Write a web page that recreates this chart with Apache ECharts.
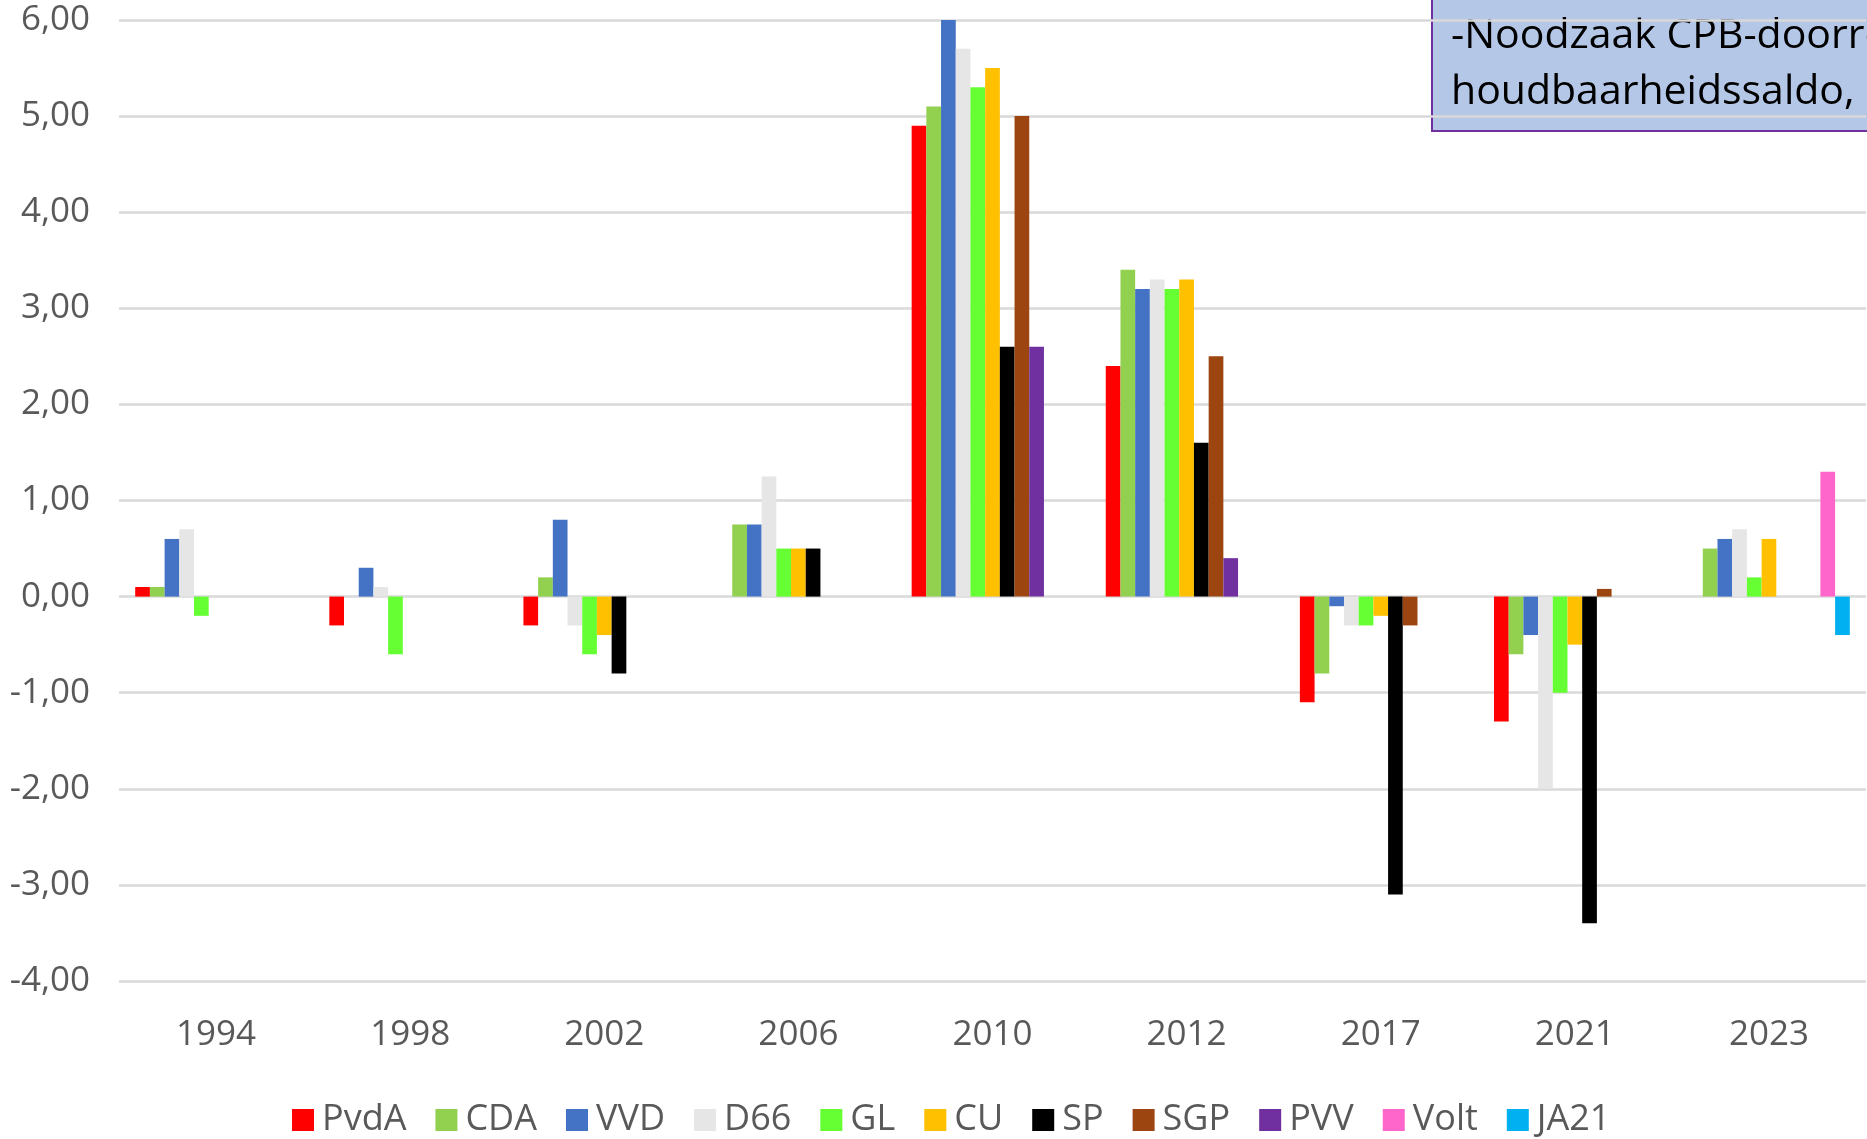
<!DOCTYPE html>
<html>
<head>
<meta charset="utf-8">
<script src="https://cdn.jsdelivr.net/npm/echarts@6/dist/echarts.min.js"></script>
<style>
html,body{margin:0;padding:0;background:#fff;}
#chart{width:1867px;height:1139px;}
</style>
</head>
<body>
<div id="chart"></div>
<script>
var categories = ['1994','1998','2002','2006','2010','2012','2017','2021','2023'];
var seriesNames = ['PvdA','CDA','VVD','D66','GL','CU','SP','SGP','PVV','Volt','JA21'];
var PvdA = [0.1, -0.3, -0.3, null, 4.9, 2.4, -1.1, -1.3, null];
var CDA  = [0.1, null, 0.2, 0.75, 5.1, 3.4, -0.8, -0.6, 0.5];
var VVD  = [0.6, 0.3, 0.8, 0.75, 6.0, 3.2, -0.1, -0.4, 0.6];
var D66  = [0.7, 0.1, -0.3, 1.25, 5.7, 3.3, -0.3, -2.0, 0.7];
var GL   = [-0.2, -0.6, -0.6, 0.5, 5.3, 3.2, -0.3, -1.0, 0.2];
var CU   = [null, null, -0.4, 0.5, 5.5, 3.3, -0.2, -0.5, 0.6];
var SP   = [null, null, -0.8, 0.5, 2.6, 1.6, -3.1, -3.4, null];
var SGP  = [null, null, null, null, 5.0, 2.5, -0.3, 0.08, null];
var PVV  = [null, null, null, null, 2.6, 0.4, null, null, null];
var Volt = [null, null, null, null, null, null, null, null, 1.3];
var JA21 = [null, null, null, null, null, null, null, null, -0.4];
var seriesData = [PvdA, CDA, VVD, D66, GL, CU, SP, SGP, PVV, Volt, JA21];
var colors = ['#FF0000','#92D050','#4472C4','#E7E6E6','#66FF33','#FFC000','#000000','#9C4510','#7030A0','#FF66CC','#00B0F0'];
var yMin = -4, yMax = 6, yStep = 1;
var boxLines = ['-Noodzaak CPB-doorrekening', 'houdbaarheidssaldo,'];

var FONT = '"Open Sans", sans-serif';
var chart = echarts.init(document.getElementById('chart'), null, {renderer:'canvas'});
var series = seriesNames.map(function(n, i){
  return {
    name: n, type: 'bar', data: seriesData[i],
    barWidth: 14.7, barGap: '0%',
    itemStyle: {color: colors[i]},
    emphasis: {disabled: true}
  };
});
chart.setOption({
  animation: false,
  backgroundColor: '#ffffff',
  grid: {left: 119, right: 1, top: 20, bottom: 158, containLabel: false},
  xAxis: {
    type: 'category', data: categories,
    axisLine: {show: false, onZero: false},
    axisTick: {show: false},
    axisLabel: {color: '#595959', fontFamily: FONT, fontSize: 35, margin: 37}
  },
  yAxis: {
    type: 'value', min: yMin, max: yMax, interval: yStep,
    axisLine: {show: false}, axisTick: {show: false},
    splitLine: {show: true, lineStyle: {color: '#D9D9D9', width: 2.5}},
    axisLabel: {color: '#595959', fontFamily: FONT, fontSize: 35, margin: 29,
      formatter: function(v){ return v.toFixed(2).replace('.', ','); }}
  },
  legend: {
    data: seriesNames, left: 287, top: 1097, itemWidth: 22, itemHeight: 22, itemGap: 29,
    icon: 'rect',
    textStyle: {color: '#595959', fontFamily: FONT, fontSize: 36, padding: [0,0,0,3]}
  },
  graphic: [{
    type: 'group',
    children: [{
      type: 'rect', shape: {x: 1432, y: -3, width: 460, height: 134},
      style: {fill: '#B4C7E7', stroke: '#7030A0', lineWidth: 2}
    }, {
      type: 'text', x: 1451, y: 8,
      style: {text: boxLines.join('\n'), font: '41px "Open Sans", sans-serif', lineHeight: 56, fill: '#000000', verticalAlign: 'top'}
    }]
  }],
  series: series
});
</script>
</body>
</html>
